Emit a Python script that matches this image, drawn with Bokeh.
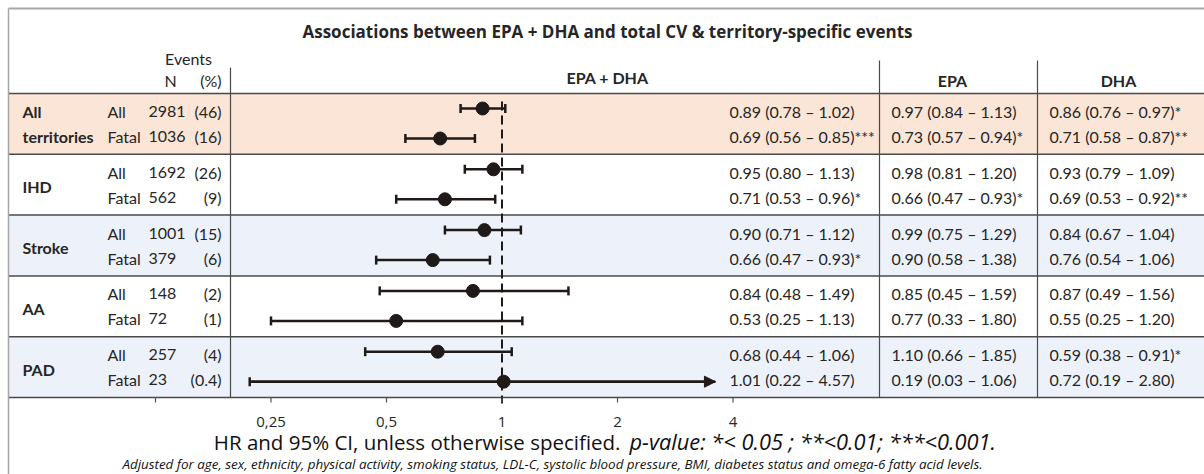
import math
from bokeh.plotting import figure
from bokeh.models import ColumnDataSource, Range1d, LogScale, Arrow, NormalHead
from bokeh.core.properties import value
from bokeh.embed import file_html
from bokeh.resources import INLINE

# ---------------- data ----------------
groups = ["All territories", "IHD", "Stroke", "AA", "PAD"]
event_types = ["All", "Fatal"]
n_all = [2981, 1692, 1001, 148, 257]
pct_all = ["46", "26", "15", "2", "4"]
n_fatal = [1036, 562, 379, 72, 23]
pct_fatal = ["16", "9", "6", "1", "0.4"]

epadha_hr_all = [0.89, 0.95, 0.90, 0.84, 0.68]
epadha_lo_all = [0.78, 0.80, 0.71, 0.48, 0.44]
epadha_hi_all = [1.02, 1.13, 1.12, 1.49, 1.06]
epadha_p_all = ["", "", "", "", ""]
epadha_hr_fatal = [0.69, 0.71, 0.66, 0.53, 1.01]
epadha_lo_fatal = [0.56, 0.53, 0.47, 0.25, 0.22]
epadha_hi_fatal = [0.85, 0.96, 0.93, 1.13, 4.57]
epadha_p_fatal = ["***", "*", "*", "", ""]

epa_hr_all = [0.97, 0.98, 0.99, 0.85, 1.10]
epa_lo_all = [0.84, 0.81, 0.75, 0.45, 0.66]
epa_hi_all = [1.13, 1.20, 1.29, 1.59, 1.85]
epa_p_all = ["", "", "", "", ""]
epa_hr_fatal = [0.73, 0.66, 0.90, 0.77, 0.19]
epa_lo_fatal = [0.57, 0.47, 0.58, 0.33, 0.03]
epa_hi_fatal = [0.94, 0.93, 1.38, 1.80, 1.06]
epa_p_fatal = ["*", "*", "", "", ""]

dha_hr_all = [0.86, 0.93, 0.84, 0.87, 0.59]
dha_lo_all = [0.76, 0.79, 0.67, 0.49, 0.38]
dha_hi_all = [0.97, 1.09, 1.04, 1.56, 0.91]
dha_p_all = ["*", "", "", "", "*"]
dha_hr_fatal = [0.71, 0.69, 0.76, 0.55, 0.72]
dha_lo_fatal = [0.58, 0.53, 0.54, 0.25, 0.19]
dha_hi_fatal = [0.87, 0.92, 1.06, 1.20, 2.80]
dha_p_fatal = ["**", "**", "", "", ""]

axis_ticks = [0.125, 0.25, 0.5, 1, 2, 4]
axis_tick_labels = ["", "0,25", "0,5", "1", "2", "4"]
axis_clip = 3.6   # largest HR shown on the axis; beyond it an arrow is drawn

title_text = "Associations between EPA + DHA and total CV & territory-specific events"
footer_main = "HR and 95% CI, unless otherwise specified."
footer_p = "p-value: *< 0.05 ; **<0.01; ***<0.001."
footnote = ("Adjusted for age, sex, ethnicity, physical activity, smoking status, LDL-C, "
            "systolic blood pressure, BMI, diabetes status and omega-6 fatty acid levels.")

# ---------------- layout ----------------
W, H = 1204, 474
LEFT = 8
TOP_LINE = 8
HEAD_BOTTOM = 93
BAND_H = 60.8
ROW_TXT = [18, 43]
ROW_MARK = [15, 45]
X_ONE = 501.5          # pixel of HR = 1
PX_PER_DOUBLING = 115.5
band_colors = ["#fbe5d6", "#ffffff", "#edf2fa", "#ffffff", "#edf2fa"]
TXT = "#262626"
INK = "#1f1a17"
LINE = "#4a4a4a"
FONT = "Lato"
FONT2 = "Open Sans"
FS = "16px"

hr_lo = 2 ** (-X_ONE / PX_PER_DOUBLING)
hr_hi = 2 ** ((W - X_ONE) / PX_PER_DOUBLING)

p = figure(width=W, height=H, x_range=Range1d(0, W), y_range=Range1d(H, 0),
           x_axis_location=None, y_axis_location=None, toolbar_location=None,
           output_backend="svg", min_border=0, outline_line_color=None,
           background_fill_color="white", border_fill_color="white")
p.extra_x_ranges = {"hr": Range1d(hr_lo, hr_hi)}
p.extra_x_scales = {"hr": LogScale()}
for g in p.grid:
    g.visible = False

n_groups = len(groups)
band_tops = [HEAD_BOTTOM + i * BAND_H for i in range(n_groups)]
band_bottom = HEAD_BOTTOM + n_groups * BAND_H

# bands
p.quad(left=LEFT, right=W, top=band_tops, bottom=[t + BAND_H for t in band_tops],
       fill_color=band_colors, line_color=None)

# table lines
hy = [HEAD_BOTTOM] + [t + BAND_H for t in band_tops]
p.segment(x0=LEFT, x1=W, y0=hy, y1=hy, line_color=LINE, line_width=1.5)
p.segment(x0=LEFT, x1=W, y0=TOP_LINE, y1=TOP_LINE, line_color="#a6a6a6", line_width=2)
p.segment(x0=LEFT, x1=LEFT, y0=TOP_LINE, y1=H, line_color="#a6a6a6", line_width=1.5)
p.segment(x0=[230, 879, 1037], x1=[230, 879, 1037], y0=[67, 60, 60],
          y1=[band_bottom] * 3, line_color=LINE, line_width=1.2)

# title and headers
p.text(x=[607], y=[31], text=[title_text], text_font=value(FONT2), text_font_style="bold",
       text_font_size="17px", text_align="center", text_baseline="middle", text_color=TXT)
p.text(x=[188], y=[58], text=["Events"], text_font=value(FONT), text_font_size=FS,
       text_align="center", text_baseline="middle", text_color=TXT)
p.text(x=[170], y=[80], text=["N"], text_font=value(FONT), text_font_size=FS,
       text_align="center", text_baseline="middle", text_color=TXT)
p.text(x=[221], y=[80], text=["(%)"], text_font=value(FONT), text_font_size=FS,
       text_align="right", text_baseline="middle", text_color=TXT)
p.text(x=[607, 952, 1118], y=[77, 80, 80], text=["EPA + DHA", "EPA", "DHA"],
       text_font=value(FONT), text_font_size=FS, text_font_style="bold",
       text_align="center", text_baseline="middle", text_color=TXT)

# group labels
gl_x, gl_y, gl_t = [], [], []
for i, g in enumerate(groups):
    words = g.split(" ")
    if len(words) > 1:
        for j, w in enumerate(words):
            gl_x.append(22); gl_y.append(band_tops[i] + ROW_TXT[j]); gl_t.append(w)
    else:
        gl_x.append(22); gl_y.append(band_tops[i] + BAND_H / 2 + 2); gl_t.append(g)
p.text(x=gl_x, y=gl_y, text=gl_t, text_font=value(FONT), text_font_style="bold",
       text_font_size=FS, text_baseline="middle", text_color=TXT)


def fmt(hr, lo, hi, pv):
    return [f"{a:.2f} ({b:.2f} \u2013 {c:.2f}){s}" for a, b, c, s in zip(hr, lo, hi, pv)]


rows = dict(y_txt=[], y_mark=[], etype=[], n=[], pct=[], hr=[], lo=[], hi=[],
            t_both=[], t_epa=[], t_dha=[])
both_all = fmt(epadha_hr_all, epadha_lo_all, epadha_hi_all, epadha_p_all)
both_fat = fmt(epadha_hr_fatal, epadha_lo_fatal, epadha_hi_fatal, epadha_p_fatal)
epa_all = fmt(epa_hr_all, epa_lo_all, epa_hi_all, epa_p_all)
epa_fat = fmt(epa_hr_fatal, epa_lo_fatal, epa_hi_fatal, epa_p_fatal)
dha_all = fmt(dha_hr_all, dha_lo_all, dha_hi_all, dha_p_all)
dha_fat = fmt(dha_hr_fatal, dha_lo_fatal, dha_hi_fatal, dha_p_fatal)
for i in range(n_groups):
    for j, et in enumerate(event_types):
        rows["y_txt"].append(band_tops[i] + ROW_TXT[j])
        rows["y_mark"].append(band_tops[i] + ROW_MARK[j])
        rows["etype"].append(et)
        if j == 0:
            rows["n"].append(str(n_all[i])); rows["pct"].append(f"({pct_all[i]})")
            rows["hr"].append(epadha_hr_all[i]); rows["lo"].append(epadha_lo_all[i])
            rows["hi"].append(epadha_hi_all[i])
            rows["t_both"].append(both_all[i]); rows["t_epa"].append(epa_all[i])
            rows["t_dha"].append(dha_all[i])
        else:
            rows["n"].append(str(n_fatal[i])); rows["pct"].append(f"({pct_fatal[i]})")
            rows["hr"].append(epadha_hr_fatal[i]); rows["lo"].append(epadha_lo_fatal[i])
            rows["hi"].append(epadha_hi_fatal[i])
            rows["t_both"].append(both_fat[i]); rows["t_epa"].append(epa_fat[i])
            rows["t_dha"].append(dha_fat[i])
rows["hi_c"] = [min(h, axis_clip) for h in rows["hi"]]
src = ColumnDataSource(rows)

txt_kw = dict(text_font=value(FONT), text_font_size=FS, text_baseline="middle",
              text_color=TXT, source=src)
p.text(x=107, y="y_txt", text="etype", **txt_kw)
p.text(x=148, y="y_txt", text="n", **txt_kw)
p.text(x=221, y="y_txt", text="pct", text_align="right", **txt_kw)
p.text(x=729, y="y_txt", text="t_both", **txt_kw)
p.text(x=891, y="y_txt", text="t_epa", **txt_kw)
p.text(x=1049, y="y_txt", text="t_dha", **txt_kw)

# reference line at HR = 1
p.segment(x0=[1], x1=[1], y0=[101], y1=[band_bottom + 6], x_range_name="hr",
          line_color=INK, line_width=2, line_dash="9 5")

# CI lines
p.segment(x0="lo", x1="hi_c", y0="y_mark", y1="y_mark", x_range_name="hr",
          line_color=INK, line_width=2.5, source=src)
cap_x, cap_y = [], []
for lo, hi, y in zip(rows["lo"], rows["hi"], rows["y_mark"]):
    cap_x.append(lo); cap_y.append(y)
    if hi <= axis_clip:
        cap_x.append(hi); cap_y.append(y)
p.segment(x0=cap_x, x1=cap_x, y0=[y - 4.5 for y in cap_y], y1=[y + 4.5 for y in cap_y],
          x_range_name="hr", line_color=INK, line_width=2.5)
clipped = [k for k, h in enumerate(rows["hi"]) if h > axis_clip]
arr_src = ColumnDataSource(dict(x0=[rows["lo"][k] for k in clipped],
                                x1=[axis_clip for k in clipped],
                                y=[rows["y_mark"][k] for k in clipped]))
p.add_layout(Arrow(x_start="x0", x_end="x1", y_start="y", y_end="y", source=arr_src,
                   x_range_name="hr", line_color=INK, line_width=2.5,
                   end=NormalHead(size=11, fill_color=INK, line_color=INK)))
p.scatter(x="hr", y="y_mark", x_range_name="hr", size=13, marker="circle",
          fill_color=INK, line_color=INK, source=src)

# axis ticks and labels
p.segment(x0=axis_ticks, x1=axis_ticks, y0=[band_bottom] * len(axis_ticks),
          y1=[band_bottom + 5] * len(axis_ticks), x_range_name="hr",
          line_color="#555555", line_width=1.2)
p.text(x=axis_ticks, y=[421] * len(axis_ticks), text=axis_tick_labels, x_range_name="hr",
       text_font=value(FONT2), text_font_size="15px", text_align="center",
       text_baseline="middle", text_color=TXT)

# footer
p.text(x=[620], y=[441], text=[footer_main], text_font=value(FONT2), text_font_size="20.5px",
       text_align="right", text_baseline="middle", text_color="#111111")
p.text(x=[629], y=[441], text=[footer_p], text_font=value(FONT2), text_font_size="21.8px",
       text_font_style="italic", text_align="left", text_baseline="middle",
       text_color="#111111")
p.text(x=[552], y=[463], text=[footnote], text_font=value(FONT2), text_font_size="13.4px",
       text_font_style="italic", text_align="center", text_baseline="middle",
       text_color="#111111")

open("out.html", "w").write(file_html(p, INLINE))
